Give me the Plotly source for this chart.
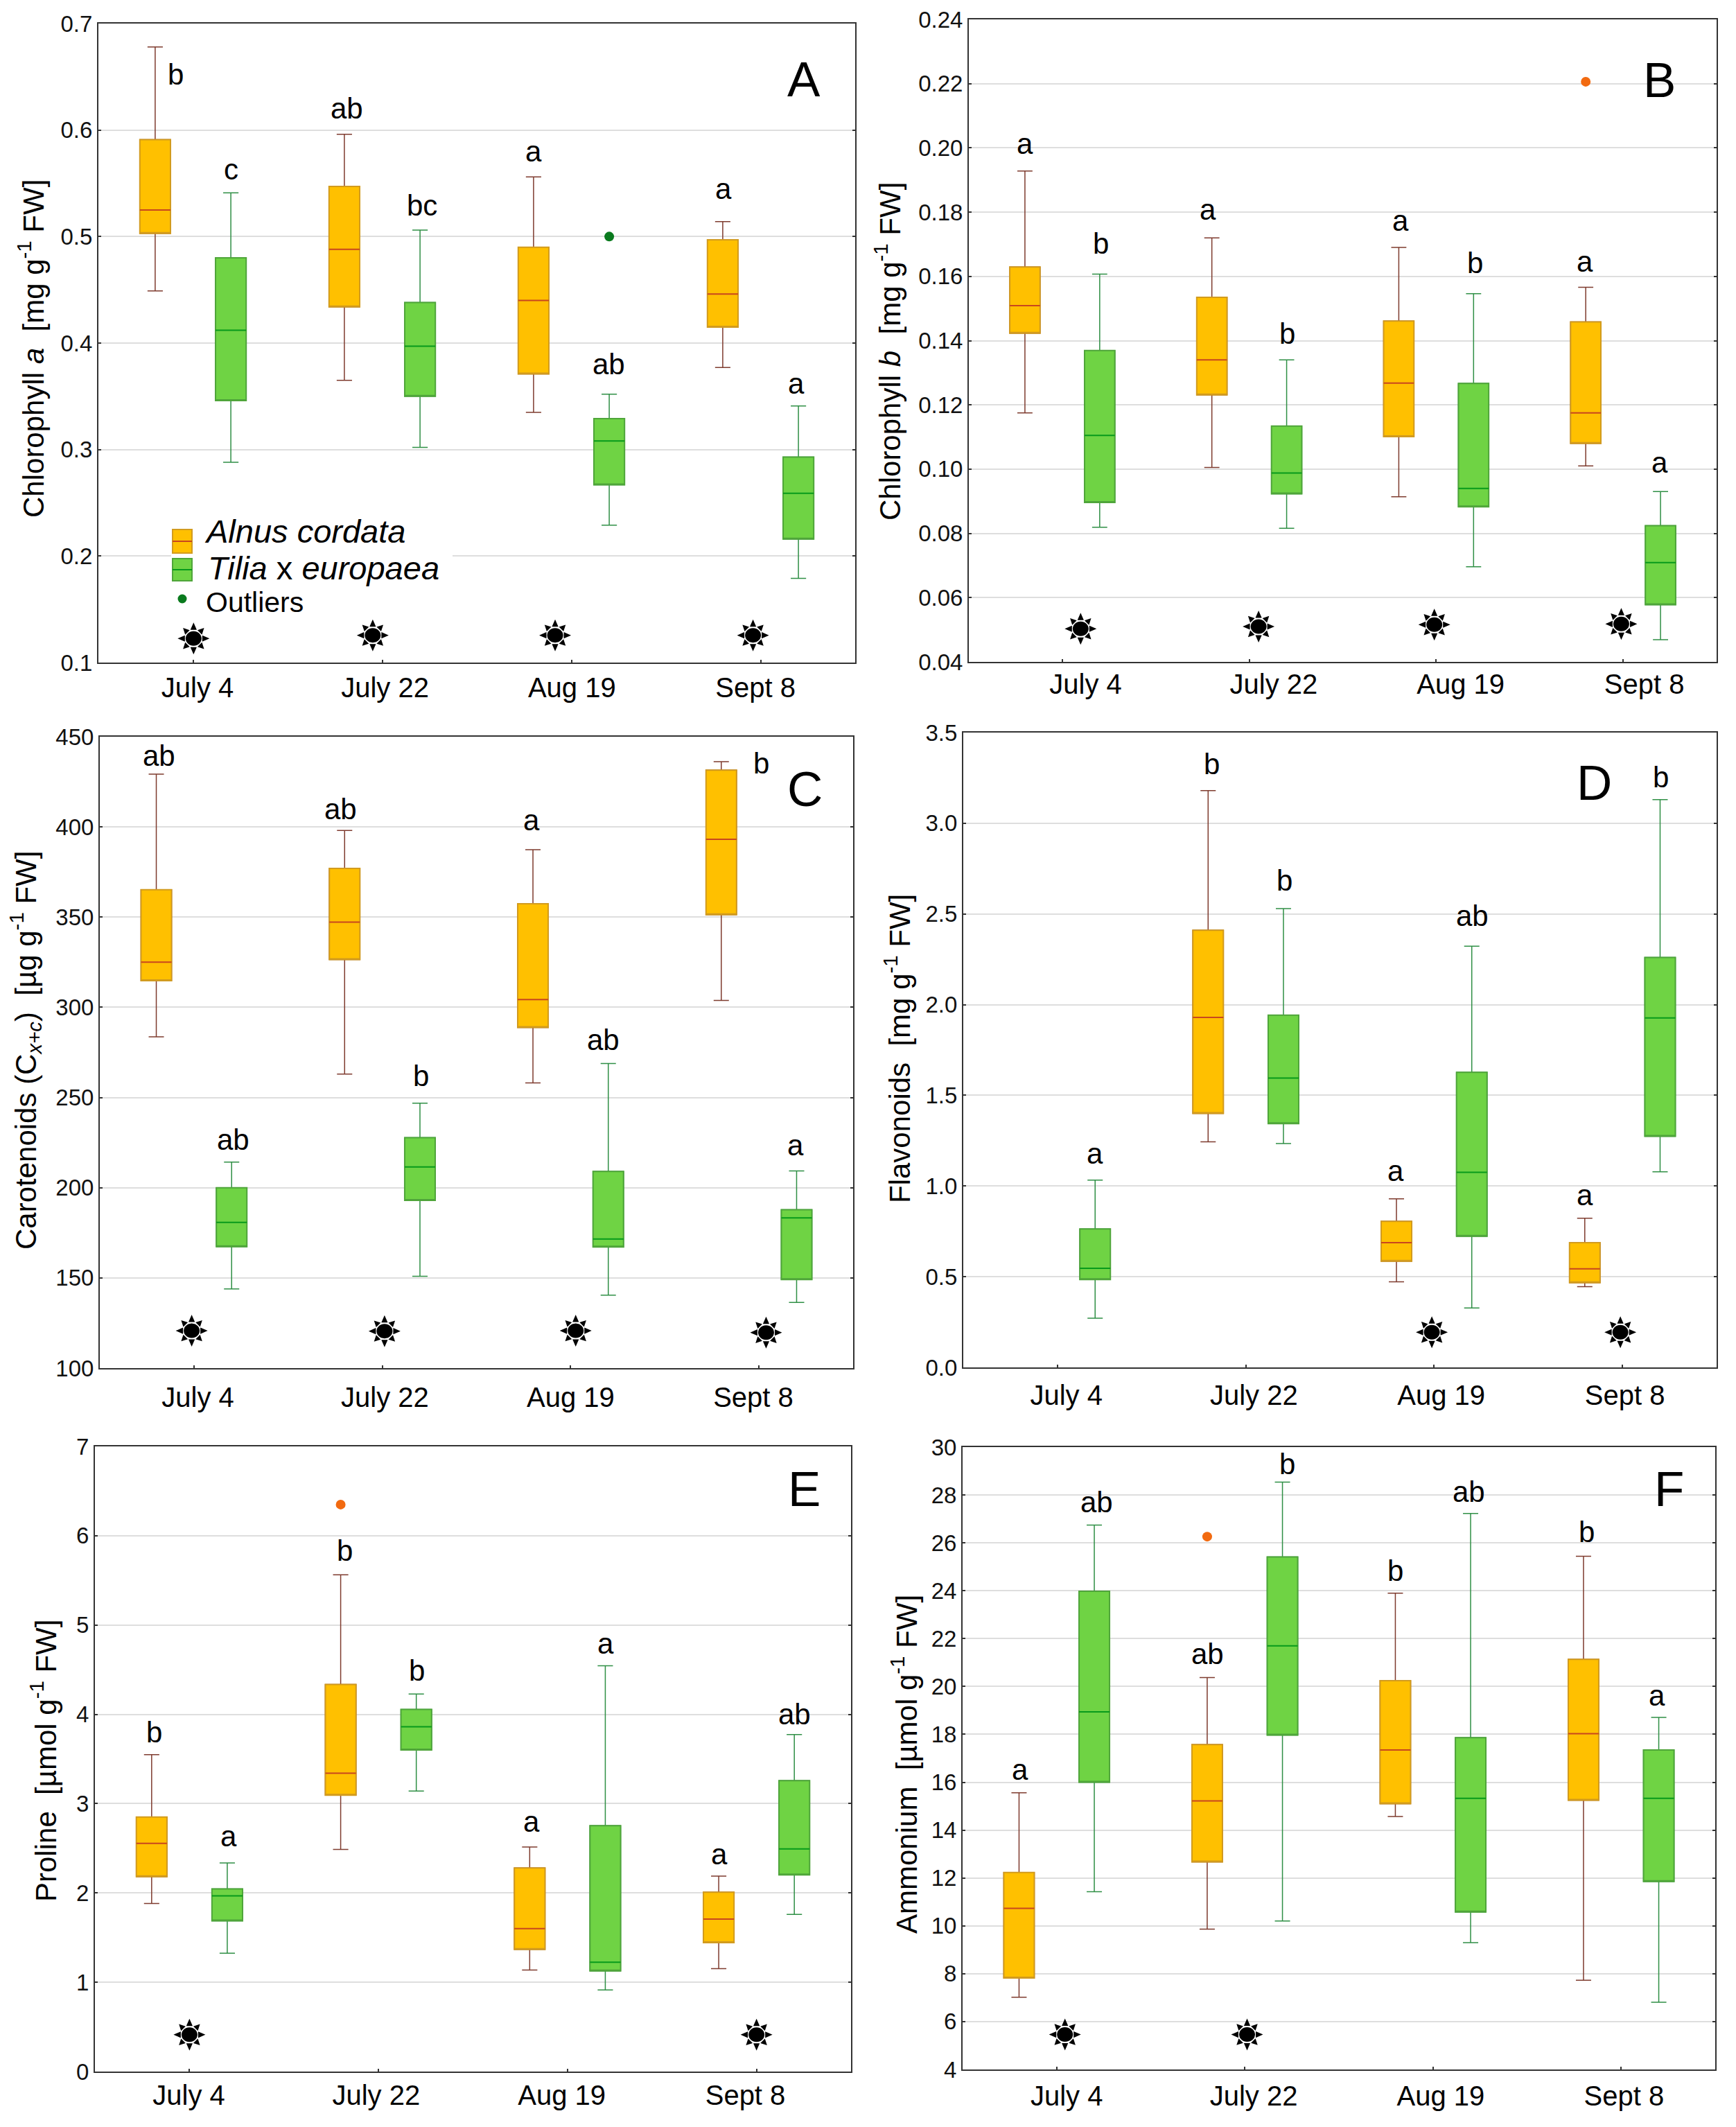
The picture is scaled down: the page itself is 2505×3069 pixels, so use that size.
"""Six panel box plots of leaf pigments and metabolites in two tree species."""

import math

import plotly.graph_objects as go

# the page keeps the browser's 8 px body margin, so the figure is that much smaller
BODY_MARGIN = 8
WIDTH = 2505 - 2 * BODY_MARGIN
HEIGHT = 3069 - 2 * BODY_MARGIN
FONT = "Liberation Sans"

dates = ["July 4", "July 22", "Aug 19", "Sept 8"]

# every row: lower whisker, q1, median, q3, upper whisker (one row per date)
a_alnus = [
    [0.449, 0.503, 0.525, 0.591, 0.678],
    [0.365, 0.434, 0.488, 0.547, 0.596],
    [0.335, 0.371, 0.440, 0.490, 0.556],
    [0.377, 0.415, 0.446, 0.497, 0.514],
]
a_tilia = [
    [0.288, 0.346, 0.412, 0.480, 0.541],
    [0.302, 0.350, 0.397, 0.438, 0.506],
    [0.229, 0.267, 0.308, 0.329, 0.352],
    [0.179, 0.216, 0.259, 0.293, 0.341],
]
b_alnus = [
    [0.1175, 0.1423, 0.1509, 0.1629, 0.1928],
    [0.1005, 0.1231, 0.1340, 0.1535, 0.1720],
    [0.0914, 0.1101, 0.1268, 0.1461, 0.1690],
    [0.1010, 0.1080, 0.1175, 0.1458, 0.1566],
]
b_tilia = [
    [0.0819, 0.0896, 0.1105, 0.1369, 0.1607],
    [0.0816, 0.0923, 0.0988, 0.1134, 0.1340],
    [0.0696, 0.0883, 0.0940, 0.1267, 0.1546],
    [0.0469, 0.0578, 0.0709, 0.0824, 0.0930],
]
c_alnus = [
    [283.6, 314.8, 325.0, 365.2, 429.3],
    [263.0, 326.5, 347.2, 377.0, 398.0],
    [258.1, 288.8, 304.3, 357.4, 387.4],
    [303.8, 351.4, 393.1, 431.5, 436.2],
]
c_tilia = [
    [143.9, 167.3, 180.8, 200.0, 214.2],
    [150.9, 193.0, 211.5, 227.7, 246.9],
    [140.4, 167.1, 171.6, 209.0, 268.9],
    [136.4, 149.1, 183.3, 187.8, 209.3],
]
d_alnus = [
    None,
    [1.244, 1.400, 1.930, 2.410, 3.180],
    [0.472, 0.586, 0.688, 0.805, 0.929],
    [0.445, 0.467, 0.544, 0.688, 0.822],
]
d_tilia = [
    [0.271, 0.484, 0.546, 0.763, 1.033],
    [1.234, 1.344, 1.595, 1.942, 2.529],
    [0.328, 0.723, 1.076, 1.627, 2.322],
    [1.078, 1.274, 1.927, 2.260, 3.130],
]
e_alnus = [
    [1.882, 2.183, 2.555, 2.851, 3.549],
    [2.488, 3.095, 3.340, 4.334, 5.563],
    [1.137, 1.367, 1.601, 2.279, 2.514],
    [1.152, 1.443, 1.708, 2.009, 2.188],
]
e_tilia = [
    [1.326, 1.688, 1.968, 2.045, 2.336],
    [3.141, 3.600, 3.860, 4.054, 4.227],
    [0.913, 1.127, 1.224, 2.754, 4.544],
    [1.759, 2.203, 2.494, 3.258, 3.774],
]
f_alnus = [
    [7.02, 7.82, 10.73, 12.23, 15.56],
    [9.86, 12.67, 15.22, 17.57, 20.37],
    [14.57, 15.10, 17.35, 20.24, 23.90],
    [7.73, 15.25, 18.03, 21.13, 25.44],
]
f_tilia = [
    [11.43, 16.00, 18.94, 23.98, 26.74],
    [10.20, 17.97, 21.70, 25.41, 28.54],
    [9.30, 10.58, 15.33, 17.86, 27.23],
    [6.81, 11.85, 15.33, 17.35, 18.71],
]

# outliers: date index, species, value
a_outliers = [(2, "tilia", 0.50)]
b_outliers = [(3, "alnus", 0.2206)]
e_outliers = [(1, "alnus", 6.349)]
f_outliers = [(1, "alnus", 26.26)]

# significance letters: letter, position on the date axis, value
a_letters = [
    ("b", -0.09, 0.652), ("c", 0.20, 0.563), ("ab", 0.814, 0.62), ("bc", 1.212, 0.529),
    ("a", 1.802, 0.58), ("ab", 2.198, 0.38), ("a", 2.805, 0.545), ("a", 3.19, 0.362),
]
b_letters = [
    ("a", -0.20, 0.2012), ("b", 0.205, 0.1702), ("a", 0.78, 0.1808), ("b", 1.205, 0.1421),
    ("a", 1.81, 0.1773), ("b", 2.208, 0.1642), ("a", 2.795, 0.1645), ("a", 3.196, 0.102),
]
c_letters = [
    ("ab", -0.186, 439.5), ("ab", 0.207, 226.5), ("ab", 0.778, 409.8), ("b", 1.204, 262),
    ("a", 1.793, 403.8), ("ab", 2.172, 282), ("b", 3.012, 435.2), ("a", 3.195, 223.7),
]
d_letters = [
    ("a", 0.198, 1.18), ("b", 0.818, 3.326), ("b", 1.205, 2.683), ("a", 1.796, 1.085),
    ("ab", 2.204, 2.489), ("a", 2.80, 0.949), ("b", 3.202, 3.254),
]
e_letters = [
    ("b", -0.188, 3.80), ("a", 0.209, 2.631), ("b", 0.82, 5.829), ("b", 1.203, 4.493),
    ("a", 1.809, 2.795), ("a", 2.203, 4.793), ("a", 2.803, 2.432), ("ab", 3.20, 4.003),
]
f_letters = [
    ("a", -0.195, 16.53), ("ab", 0.212, 27.71), ("ab", 0.802, 21.36), ("b", 1.227, 29.3),
    ("b", 1.80, 24.84), ("ab", 2.192, 28.14), ("b", 2.817, 26.45), ("a", 3.189, 19.61),
]

# sun marks: position on the date axis, value
a_suns = [(0.003, 0.1226), (0.95, 0.1256), (1.914, 0.1256), (2.96, 0.1256)]
b_suns = [(0.098, 0.0503), (1.05, 0.0510), (1.99, 0.0516), (2.99, 0.0518)]
c_suns = [(-0.012, 120.7), (1.012, 120.5), (2.027, 120.7), (3.038, 119.7)]
d_suns = [(1.988, 0.194), (2.989, 0.194)]
e_suns = [(0.0, 0.413), (3.0, 0.413)]
f_suns = [(0.044, 5.46), (1.012, 5.46)]

# pixel frames of the panels and where the pasted-in texts sit
panels = [
    dict(id="A", frame=(142, 34, 1234, 956), yrange=(0.1, 0.7), dtick=0.1, fmt=".1f",
         alnus=a_alnus, tilia=a_tilia, outliers=a_outliers, letters=a_letters, suns=a_suns,
         title="Chlorophyll <i>a</i>\u00a0\u00a0[mg g<sup>-1</sup> FW]", title_xy=(45, 503),
         letter_xy=(1160, 114), date_pos=[0.024, 1.015, 2.003, 2.973], standoff=0),
    dict(id="B", frame=(1398, 28, 2477, 955), yrange=(0.04, 0.24), dtick=0.02, fmt=".2f",
         alnus=b_alnus, tilia=b_tilia, outliers=b_outliers, letters=b_letters, suns=b_suns,
         title="Chlorophyll <i>b</i>\u00a0\u00a0[mg g<sup>-1</sup> FW]", title_xy=(1281, 507),
         letter_xy=(2394, 115), date_pos=[0.125, 1.131, 2.131, 3.113], standoff=-4),
    dict(id="C", frame=(144, 1063, 1231, 1974), yrange=(100, 450), dtick=50, fmt="d",
         alnus=c_alnus, tilia=c_tilia, outliers=[], letters=c_letters, suns=c_suns,
         title="Carotenoids (C<sub><i>x+c</i></sub>)\u00a0\u00a0[\u00b5g g<sup>-1</sup> FW]",
         title_xy=(36, 1516), letter_xy=(1161, 1138), date_pos=[0.021, 1.014, 2.0, 2.97],
         standoff=6),
    dict(id="D", frame=(1390, 1057, 2477, 1973), yrange=(0, 3.5), dtick=0.5, fmt=".1f",
         alnus=d_alnus, tilia=d_tilia, outliers=[], letters=d_letters, suns=d_suns,
         title="Flavonoids\u00a0\u00a0[mg g<sup>-1</sup> FW]", title_xy=(1295, 1513),
         letter_xy=(2300, 1129), date_pos=[0.047, 1.043, 2.038, 3.013], standoff=4),
    dict(id="E", frame=(137, 2087, 1228, 2989), yrange=(0, 7), dtick=1, fmt="d",
         alnus=e_alnus, tilia=e_tilia, outliers=e_outliers, letters=e_letters, suns=e_suns,
         title="Proline\u00a0\u00a0[\u00b5mol g<sup>-1</sup> FW]", title_xy=(63, 2541),
         letter_xy=(1160, 2148), date_pos=[-0.003, 0.988, 1.97, 2.941], standoff=-2),
    dict(id="F", frame=(1389, 2088, 2475, 2986), yrange=(4, 30), dtick=2, fmt="d",
         alnus=f_alnus, tilia=f_tilia, outliers=f_outliers, letters=f_letters, suns=f_suns,
         title="Ammonium\u00a0\u00a0[\u00b5mol g<sup>-1</sup> FW]", title_xy=(1305, 2546),
         letter_xy=(2408, 2148), date_pos=[0.053, 1.047, 2.041, 3.015], standoff=2),
]

SPECIES = {
    "alnus": dict(offset=-0.2, fill="#FFC000", border="#D29B1E", whisker="#7E3B2E",
                  median="#C8461E", dot="#F26A10"),
    "tilia": dict(offset=0.2, fill="#6FD344", border="#4FA53A", whisker="#2F8F45",
                  median="#079A1B", dot="#0A7A1E"),
}
BOX_WIDTH = 0.162


def paper_x(px):
    return (px - BODY_MARGIN) / WIDTH


def paper_y(py):
    return 1 - (py - BODY_MARGIN) / HEIGHT


def sun_path():
    """Black disc with eight small spikes, in pixels around the anchor."""
    disc = [
        (11.5 * math.cos(2 * math.pi * n / 28), 10.5 * math.sin(2 * math.pi * n / 28))
        for n in range(28)
    ]
    path = "M" + " L".join(f"{x:.1f},{y:.1f}" for x, y in disc) + " Z"
    for n in range(8):
        angle = n * math.pi / 4
        ca, sa = math.cos(angle), math.sin(angle)
        inner, outer = (12.5, 23.0) if n % 2 == 0 else (12.5, 21.5)
        half = 4.6
        tip = (outer * ca, outer * sa)
        left = (inner * ca - half * sa, inner * sa + half * ca)
        right = (inner * ca + half * sa, inner * sa - half * ca)
        path += (
            f" M{left[0]:.1f},{left[1]:.1f} L{tip[0]:.1f},{tip[1]:.1f}"
            f" L{right[0]:.1f},{right[1]:.1f} Z"
        )
    return path


def box_layers(rows, style, xref, yref):
    """Whiskers, body and median are separate boxes because each has its own colour."""
    kept = [(i + style["offset"], r) for i, r in enumerate(rows) if r is not None]
    x = [k[0] for k in kept]
    low = [k[1][0] for k in kept]
    q1 = [k[1][1] for k in kept]
    med = [k[1][2] for k in kept]
    q3 = [k[1][3] for k in kept]
    up = [k[1][4] for k in kept]
    common = dict(x=x, width=BOX_WIDTH, whiskerwidth=0.5, xaxis=xref, yaxis=yref,
                  showlegend=False, boxpoints=False, hoverinfo="skip")
    return [
        go.Box(q1=q1, median=med, q3=q3, lowerfence=low, upperfence=up,
               fillcolor=style["fill"], line=dict(color=style["whisker"], width=1.5), **common),
        go.Box(q1=q1, median=q1, q3=q3, lowerfence=q1, upperfence=q3,
               fillcolor=style["fill"], line=dict(color=style["border"], width=2), **common),
        go.Box(q1=med, median=med, q3=med, lowerfence=med, upperfence=med,
               fillcolor=style["fill"], line=dict(color=style["median"], width=2), **common),
    ]


fig = go.Figure()
annotations = []
shapes = []
layout_axes = {}
SUN = sun_path()

for n, panel in enumerate(panels, start=1):
    suffix = "" if n == 1 else str(n)
    xref, yref = f"x{suffix}", f"y{suffix}"
    left, top, right, bottom = panel["frame"]

    for name, style in SPECIES.items():
        for trace in box_layers(panel[name], style, xref, yref):
            fig.add_trace(trace)

    for date_idx, species, value in panel["outliers"]:
        style = SPECIES[species]
        fig.add_trace(go.Scatter(
            x=[date_idx + style["offset"]], y=[value], mode="markers",
            marker=dict(color=style["dot"], size=14), xaxis=xref, yaxis=yref,
            showlegend=False, hoverinfo="skip",
        ))

    layout_axes[f"xaxis{suffix}"] = dict(
        domain=[paper_x(left), paper_x(right)], range=[-0.5, 3.5], anchor=yref,
        automargin=False, tickmode="array", tickvals=panel["date_pos"], ticktext=dates, ticks="",
        ticklabelstandoff=panel["standoff"], tickfont=dict(family=FONT, size=40, color="#000000"),
        minor=dict(tickmode="array", tickvals=[0, 1, 2, 3], ticks="inside", ticklen=4,
                   tickcolor="#333333", tickwidth=2),
        showgrid=False, zeroline=False, showline=True, linecolor="#333333", linewidth=2,
        mirror=True,
    )
    layout_axes[f"yaxis{suffix}"] = dict(
        domain=[paper_y(bottom), paper_y(top)], range=list(panel["yrange"]), anchor=xref,
        automargin=False, tick0=panel["yrange"][0], dtick=panel["dtick"], tickformat=panel["fmt"],
        ticks="inside", ticklen=4, tickcolor="#333333", tickwidth=2,
        tickfont=dict(family=FONT, size=33, color="#111111"),
        showgrid=True, gridcolor="#DEDEDE", gridwidth=2, zeroline=False,
        showline=True, linecolor="#333333", linewidth=2, mirror="ticks",
    )

    for text, x, y in panel["letters"]:
        annotations.append(dict(text=text, x=x, y=y, xref=xref, yref=yref, showarrow=False,
                                xanchor="center", yanchor="middle",
                                font=dict(family=FONT, size=42, color="#000000")))
    annotations.append(dict(text=panel["id"], x=paper_x(panel["letter_xy"][0]),
                            y=paper_y(panel["letter_xy"][1]), xref="paper", yref="paper",
                            xanchor="center", yanchor="middle", showarrow=False,
                            font=dict(family=FONT, size=71, color="#000000")))
    annotations.append(dict(text=panel["title"], x=paper_x(panel["title_xy"][0]),
                            y=paper_y(panel["title_xy"][1]), xref="paper", yref="paper",
                            xanchor="center", yanchor="middle", textangle=-90, showarrow=False,
                            font=dict(family=FONT, size=42, color="#000000")))

    for x, y in panel["suns"]:
        shapes.append(dict(type="path", path=SUN, xref=xref, yref=yref, xsizemode="pixel",
                           ysizemode="pixel", xanchor=x, yanchor=y, fillcolor="#000000",
                           line=dict(width=0)))


def paper_rect(x0, y0, x1, y1, **style):
    return dict(type="rect", xref="paper", yref="paper", x0=paper_x(x0), x1=paper_x(x1),
                y0=paper_y(y1), y1=paper_y(y0), **style)


def paper_line(x0, x1, y, color):
    return dict(type="line", xref="paper", yref="paper", x0=paper_x(x0), x1=paper_x(x1),
                y0=paper_y(y), y1=paper_y(y), line=dict(color=color, width=2))


# legend of panel A, with the white patch that cuts the 0.2 gridline
shapes.append(paper_rect(247, 790, 653, 815, fillcolor="#FFFFFF", line=dict(width=0)))
alnus, tilia = SPECIES["alnus"], SPECIES["tilia"]
shapes.append(paper_rect(249, 764, 277, 798, fillcolor=alnus["fill"],
                         line=dict(color=alnus["border"], width=2)))
shapes.append(paper_line(249, 277, 781, alnus["median"]))
shapes.append(paper_rect(249, 806, 277, 838, fillcolor=tilia["fill"],
                         line=dict(color=tilia["border"], width=2)))
shapes.append(paper_line(249, 277, 822, tilia["median"]))
shapes.append(dict(type="circle", xref="paper", yref="paper", x0=paper_x(256.5), x1=paper_x(269.5),
                   y0=paper_y(870.5), y1=paper_y(857.5), fillcolor=tilia["dot"], line=dict(width=0)))
for text, x, y, size in [
    ("<i>Alnus cordata</i>", 293, 767, 47),
    ("<i>Tilia</i> x <i>europaea</i>", 298, 820, 47),
    ("Outliers", 295, 869, 41),
]:
    annotations.append(dict(text=text, x=paper_x(x), y=paper_y(y), xref="paper", yref="paper",
                            xanchor="left", yanchor="middle", showarrow=False,
                            font=dict(family=FONT, size=size, color="#000000")))

fig.update_layout(
    width=WIDTH, height=HEIGHT, margin=dict(l=0, r=0, t=0, b=0),
    paper_bgcolor="#FFFFFF", plot_bgcolor="#FFFFFF", boxmode="overlay",
    annotations=annotations, shapes=shapes, **layout_axes,
)

fig.write_html("out.html")
